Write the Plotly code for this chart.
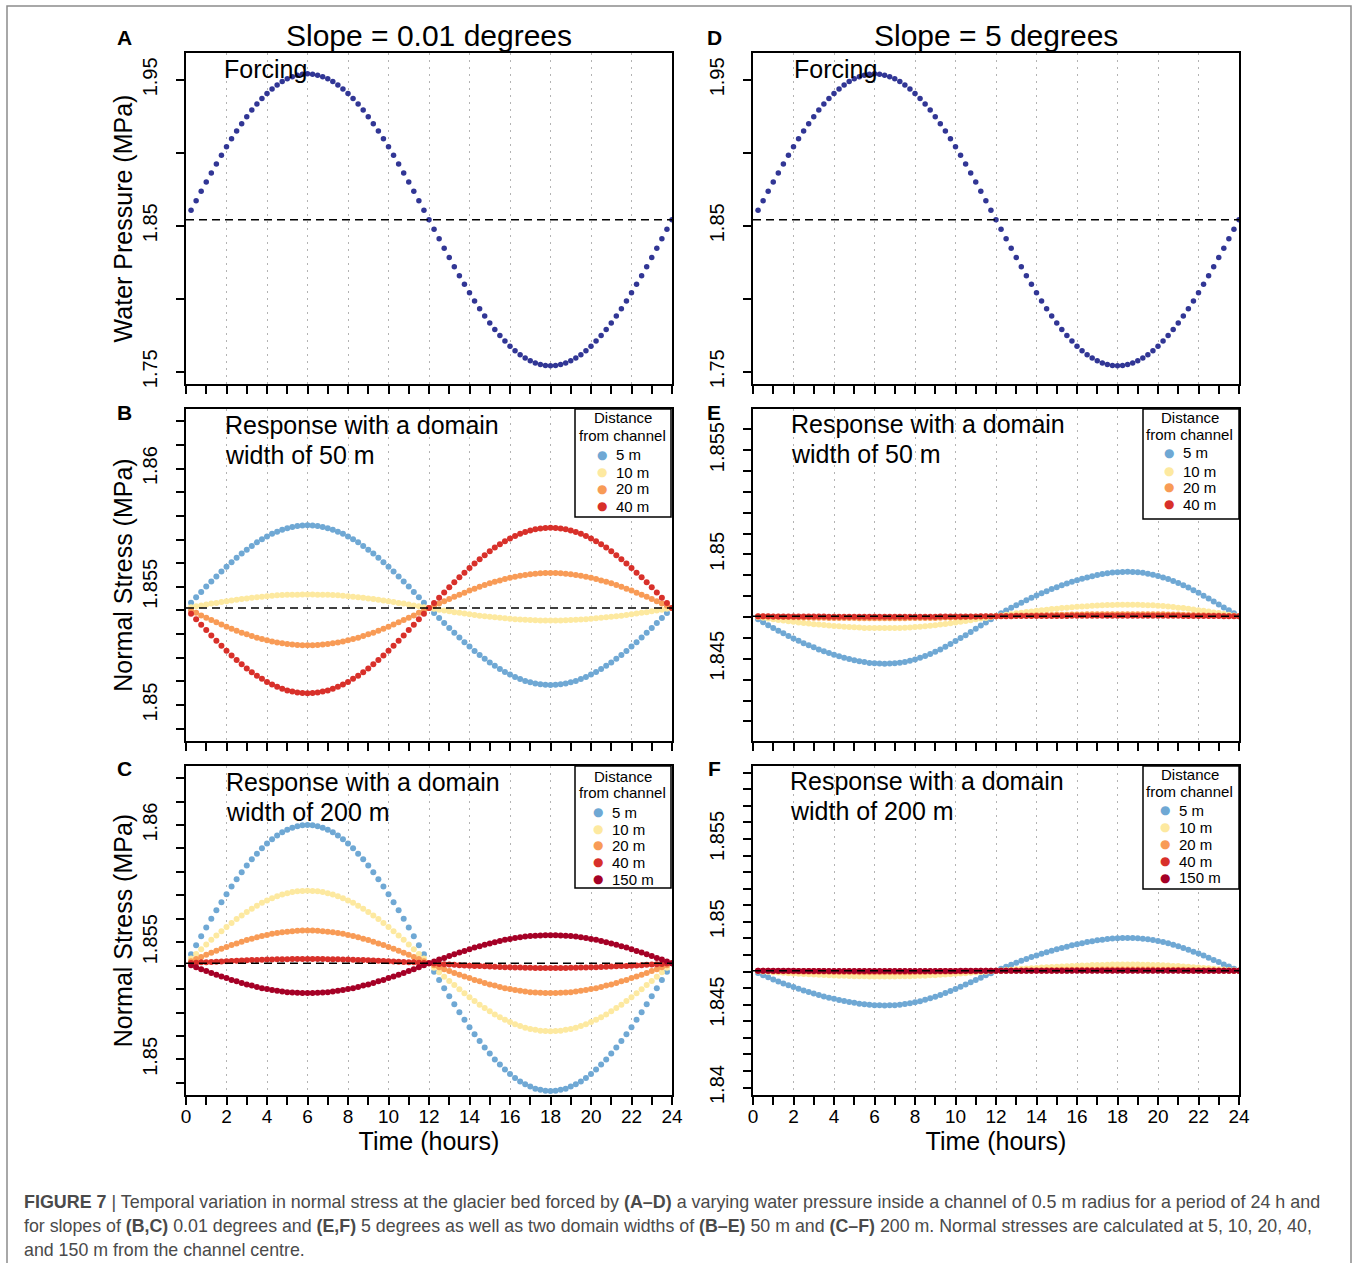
import plotly.graph_objects as go

W, H = 1358, 1263

# ---------------- data ----------------
time_h = [0.25, 0.5, 0.75, 1.0, 1.25, 1.5, 1.75, 2.0, 2.25, 2.5, 2.75, 3.0, 3.25, 3.5, 3.75, 4.0,
          4.25, 4.5, 4.75, 5.0, 5.25, 5.5, 5.75, 6.0, 6.25, 6.5, 6.75, 7.0, 7.25, 7.5, 7.75, 8.0,
          8.25, 8.5, 8.75, 9.0, 9.25, 9.5, 9.75, 10.0, 10.25, 10.5, 10.75, 11.0, 11.25, 11.5, 11.75, 12.0,
          12.25, 12.5, 12.75, 13.0, 13.25, 13.5, 13.75, 14.0, 14.25, 14.5, 14.75, 15.0, 15.25, 15.5, 15.75, 16.0,
          16.25, 16.5, 16.75, 17.0, 17.25, 17.5, 17.75, 18.0, 18.25, 18.5, 18.75, 19.0, 19.25, 19.5, 19.75, 20.0,
          20.25, 20.5, 20.75, 21.0, 21.25, 21.5, 21.75, 22.0, 22.25, 22.5, 22.75, 23.0, 23.25, 23.5, 23.75, 24.0]

# Panels A and D: forcing water pressure (MPa)
forcing_mpa = [1.8606, 1.8672, 1.8736, 1.8800, 1.8862, 1.8924, 1.8983, 1.9041, 1.9097, 1.9150, 1.9200, 1.9248,
               1.9293, 1.9334, 1.9372, 1.9407, 1.9438, 1.9465, 1.9488, 1.9507, 1.9522, 1.9532, 1.9539, 1.9541,
               1.9539, 1.9532, 1.9522, 1.9507, 1.9488, 1.9465, 1.9438, 1.9407, 1.9372, 1.9334, 1.9293, 1.9248,
               1.9200, 1.9150, 1.9097, 1.9041, 1.8983, 1.8924, 1.8862, 1.8800, 1.8736, 1.8672, 1.8606, 1.8541,
               1.8476, 1.8411, 1.8346, 1.8282, 1.8220, 1.8158, 1.8099, 1.8041, 1.7985, 1.7932, 1.7882, 1.7834,
               1.7789, 1.7748, 1.7710, 1.7675, 1.7644, 1.7617, 1.7594, 1.7575, 1.7560, 1.7550, 1.7543, 1.7541,
               1.7543, 1.7550, 1.7560, 1.7575, 1.7594, 1.7617, 1.7644, 1.7675, 1.7710, 1.7748, 1.7789, 1.7834,
               1.7882, 1.7932, 1.7985, 1.8041, 1.8099, 1.8158, 1.8220, 1.8282, 1.8346, 1.8411, 1.8476, 1.8541]

# Panel B: slope 0.01 deg, domain width 50 m (normal stress, MPa)
b_5m = [1.85433, 1.85456, 1.85478, 1.85501, 1.85523, 1.85544, 1.85565, 1.85585, 1.85604, 1.85623, 1.85641, 1.85657,
        1.85673, 1.85688, 1.85701, 1.85713, 1.85724, 1.85733, 1.85741, 1.85748, 1.85753, 1.85757, 1.85759, 1.85760,
        1.85759, 1.85757, 1.85753, 1.85748, 1.85741, 1.85733, 1.85724, 1.85713, 1.85701, 1.85688, 1.85673, 1.85657,
        1.85641, 1.85623, 1.85604, 1.85585, 1.85565, 1.85544, 1.85523, 1.85501, 1.85478, 1.85456, 1.85433, 1.85410,
        1.85389, 1.85368, 1.85347, 1.85326, 1.85306, 1.85286, 1.85266, 1.85248, 1.85229, 1.85212, 1.85196, 1.85180,
        1.85166, 1.85152, 1.85140, 1.85129, 1.85119, 1.85110, 1.85102, 1.85096, 1.85091, 1.85088, 1.85086, 1.85085,
        1.85086, 1.85088, 1.85091, 1.85096, 1.85102, 1.85110, 1.85119, 1.85129, 1.85140, 1.85152, 1.85166, 1.85180,
        1.85196, 1.85212, 1.85229, 1.85248, 1.85266, 1.85286, 1.85306, 1.85326, 1.85347, 1.85368, 1.85389, 1.85410]
b_10m = [1.85414, 1.85418, 1.85421, 1.85425, 1.85429, 1.85432, 1.85436, 1.85439, 1.85442, 1.85445, 1.85448, 1.85451,
         1.85454, 1.85456, 1.85458, 1.85460, 1.85462, 1.85464, 1.85465, 1.85466, 1.85467, 1.85467, 1.85468, 1.85468,
         1.85468, 1.85467, 1.85467, 1.85466, 1.85465, 1.85464, 1.85462, 1.85460, 1.85458, 1.85456, 1.85454, 1.85451,
         1.85448, 1.85445, 1.85442, 1.85439, 1.85436, 1.85432, 1.85429, 1.85425, 1.85421, 1.85418, 1.85414, 1.85410,
         1.85407, 1.85403, 1.85400, 1.85397, 1.85393, 1.85390, 1.85387, 1.85384, 1.85381, 1.85378, 1.85376, 1.85373,
         1.85371, 1.85369, 1.85367, 1.85365, 1.85363, 1.85362, 1.85361, 1.85360, 1.85359, 1.85358, 1.85358, 1.85358,
         1.85358, 1.85358, 1.85359, 1.85360, 1.85361, 1.85362, 1.85363, 1.85365, 1.85367, 1.85369, 1.85371, 1.85373,
         1.85376, 1.85378, 1.85381, 1.85384, 1.85387, 1.85390, 1.85393, 1.85397, 1.85400, 1.85403, 1.85407, 1.85410]
b_20m = [1.85400, 1.85390, 1.85379, 1.85369, 1.85360, 1.85350, 1.85341, 1.85331, 1.85323, 1.85314, 1.85306, 1.85299,
         1.85292, 1.85285, 1.85279, 1.85274, 1.85269, 1.85265, 1.85261, 1.85258, 1.85256, 1.85254, 1.85253, 1.85253,
         1.85253, 1.85254, 1.85256, 1.85258, 1.85261, 1.85265, 1.85269, 1.85274, 1.85279, 1.85285, 1.85292, 1.85299,
         1.85306, 1.85314, 1.85323, 1.85331, 1.85341, 1.85350, 1.85360, 1.85369, 1.85379, 1.85390, 1.85400, 1.85410,
         1.85420, 1.85429, 1.85439, 1.85448, 1.85458, 1.85467, 1.85475, 1.85484, 1.85492, 1.85500, 1.85508, 1.85515,
         1.85521, 1.85527, 1.85533, 1.85538, 1.85543, 1.85547, 1.85550, 1.85553, 1.85555, 1.85557, 1.85558, 1.85558,
         1.85558, 1.85557, 1.85555, 1.85553, 1.85550, 1.85547, 1.85543, 1.85538, 1.85533, 1.85527, 1.85521, 1.85515,
         1.85508, 1.85500, 1.85492, 1.85484, 1.85475, 1.85467, 1.85458, 1.85448, 1.85439, 1.85429, 1.85420, 1.85410]
b_40m = [1.85386, 1.85363, 1.85340, 1.85317, 1.85294, 1.85272, 1.85251, 1.85230, 1.85210, 1.85191, 1.85173, 1.85155,
         1.85139, 1.85124, 1.85111, 1.85098, 1.85087, 1.85077, 1.85069, 1.85062, 1.85057, 1.85053, 1.85051, 1.85050,
         1.85051, 1.85053, 1.85057, 1.85062, 1.85069, 1.85077, 1.85087, 1.85098, 1.85111, 1.85124, 1.85139, 1.85155,
         1.85173, 1.85191, 1.85210, 1.85230, 1.85251, 1.85272, 1.85294, 1.85317, 1.85340, 1.85363, 1.85386, 1.85410,
         1.85432, 1.85454, 1.85476, 1.85498, 1.85519, 1.85540, 1.85560, 1.85580, 1.85599, 1.85617, 1.85634, 1.85650,
         1.85666, 1.85680, 1.85693, 1.85704, 1.85715, 1.85724, 1.85732, 1.85738, 1.85743, 1.85747, 1.85749, 1.85750,
         1.85749, 1.85747, 1.85743, 1.85738, 1.85732, 1.85724, 1.85715, 1.85704, 1.85693, 1.85680, 1.85666, 1.85650,
         1.85634, 1.85617, 1.85599, 1.85580, 1.85560, 1.85540, 1.85519, 1.85498, 1.85476, 1.85454, 1.85432, 1.85410]

# Panel C: slope 0.01 deg, domain width 200 m
c_5m = [1.85449, 1.85487, 1.85525, 1.85563, 1.85600, 1.85636, 1.85671, 1.85705, 1.85738, 1.85769, 1.85799, 1.85827,
        1.85854, 1.85878, 1.85901, 1.85921, 1.85939, 1.85955, 1.85969, 1.85980, 1.85989, 1.85995, 1.85999, 1.86000,
        1.85999, 1.85995, 1.85989, 1.85980, 1.85969, 1.85955, 1.85939, 1.85921, 1.85901, 1.85878, 1.85854, 1.85827,
        1.85799, 1.85769, 1.85738, 1.85705, 1.85671, 1.85636, 1.85600, 1.85563, 1.85525, 1.85487, 1.85449, 1.85410,
        1.85374, 1.85339, 1.85304, 1.85269, 1.85235, 1.85201, 1.85169, 1.85137, 1.85107, 1.85078, 1.85051, 1.85025,
        1.85000, 1.84978, 1.84957, 1.84938, 1.84921, 1.84906, 1.84894, 1.84884, 1.84875, 1.84870, 1.84866, 1.84865,
        1.84866, 1.84870, 1.84875, 1.84884, 1.84894, 1.84906, 1.84921, 1.84938, 1.84957, 1.84978, 1.85000, 1.85025,
        1.85051, 1.85078, 1.85107, 1.85137, 1.85169, 1.85201, 1.85235, 1.85269, 1.85304, 1.85339, 1.85374, 1.85410]
c_10m = [1.85430, 1.85450, 1.85470, 1.85490, 1.85510, 1.85529, 1.85547, 1.85565, 1.85582, 1.85599, 1.85614, 1.85629,
         1.85643, 1.85656, 1.85668, 1.85678, 1.85688, 1.85696, 1.85704, 1.85709, 1.85714, 1.85717, 1.85719, 1.85720,
         1.85719, 1.85717, 1.85714, 1.85709, 1.85704, 1.85696, 1.85688, 1.85678, 1.85668, 1.85656, 1.85643, 1.85629,
         1.85614, 1.85599, 1.85582, 1.85565, 1.85547, 1.85529, 1.85510, 1.85490, 1.85470, 1.85450, 1.85430, 1.85410,
         1.85391, 1.85372, 1.85353, 1.85335, 1.85317, 1.85299, 1.85282, 1.85265, 1.85249, 1.85233, 1.85219, 1.85205,
         1.85192, 1.85180, 1.85169, 1.85159, 1.85150, 1.85142, 1.85135, 1.85130, 1.85126, 1.85122, 1.85121, 1.85120,
         1.85121, 1.85122, 1.85126, 1.85130, 1.85135, 1.85142, 1.85150, 1.85159, 1.85169, 1.85180, 1.85192, 1.85205,
         1.85219, 1.85233, 1.85249, 1.85265, 1.85282, 1.85299, 1.85317, 1.85335, 1.85353, 1.85372, 1.85391, 1.85410]
c_20m = [1.85419, 1.85428, 1.85437, 1.85446, 1.85455, 1.85464, 1.85472, 1.85480, 1.85488, 1.85495, 1.85502, 1.85509,
         1.85515, 1.85521, 1.85526, 1.85531, 1.85536, 1.85539, 1.85543, 1.85545, 1.85547, 1.85549, 1.85550, 1.85550,
         1.85550, 1.85549, 1.85547, 1.85545, 1.85543, 1.85539, 1.85536, 1.85531, 1.85526, 1.85521, 1.85515, 1.85509,
         1.85502, 1.85495, 1.85488, 1.85480, 1.85472, 1.85464, 1.85455, 1.85446, 1.85437, 1.85428, 1.85419, 1.85410,
         1.85402, 1.85393, 1.85385, 1.85377, 1.85369, 1.85361, 1.85354, 1.85347, 1.85339, 1.85333, 1.85326, 1.85320,
         1.85315, 1.85309, 1.85304, 1.85300, 1.85296, 1.85293, 1.85290, 1.85287, 1.85285, 1.85284, 1.85283, 1.85283,
         1.85283, 1.85284, 1.85285, 1.85287, 1.85290, 1.85293, 1.85296, 1.85300, 1.85304, 1.85309, 1.85315, 1.85320,
         1.85326, 1.85333, 1.85339, 1.85347, 1.85354, 1.85361, 1.85369, 1.85377, 1.85385, 1.85393, 1.85402, 1.85410]
c_40m = [1.85411, 1.85412, 1.85414, 1.85415, 1.85416, 1.85417, 1.85418, 1.85419, 1.85420, 1.85421, 1.85422, 1.85423,
         1.85424, 1.85424, 1.85425, 1.85426, 1.85426, 1.85427, 1.85427, 1.85427, 1.85428, 1.85428, 1.85428, 1.85428,
         1.85428, 1.85428, 1.85428, 1.85427, 1.85427, 1.85427, 1.85426, 1.85426, 1.85425, 1.85424, 1.85424, 1.85423,
         1.85422, 1.85421, 1.85420, 1.85419, 1.85418, 1.85417, 1.85416, 1.85415, 1.85414, 1.85412, 1.85411, 1.85410,
         1.85409, 1.85407, 1.85406, 1.85405, 1.85404, 1.85402, 1.85401, 1.85400, 1.85399, 1.85398, 1.85397, 1.85396,
         1.85395, 1.85394, 1.85393, 1.85393, 1.85392, 1.85392, 1.85391, 1.85391, 1.85390, 1.85390, 1.85390, 1.85390,
         1.85390, 1.85390, 1.85390, 1.85391, 1.85391, 1.85392, 1.85392, 1.85393, 1.85393, 1.85394, 1.85395, 1.85396,
         1.85397, 1.85398, 1.85399, 1.85400, 1.85401, 1.85402, 1.85404, 1.85405, 1.85406, 1.85407, 1.85409, 1.85410]
c_150m = [1.85402, 1.85393, 1.85385, 1.85377, 1.85369, 1.85361, 1.85354, 1.85347, 1.85339, 1.85333, 1.85326, 1.85320,
          1.85315, 1.85309, 1.85304, 1.85300, 1.85296, 1.85293, 1.85290, 1.85287, 1.85285, 1.85284, 1.85283, 1.85283,
          1.85283, 1.85284, 1.85285, 1.85287, 1.85290, 1.85293, 1.85296, 1.85300, 1.85304, 1.85309, 1.85315, 1.85320,
          1.85326, 1.85333, 1.85339, 1.85347, 1.85354, 1.85361, 1.85369, 1.85377, 1.85385, 1.85393, 1.85402, 1.85410,
          1.85418, 1.85426, 1.85433, 1.85441, 1.85449, 1.85456, 1.85463, 1.85470, 1.85477, 1.85483, 1.85489, 1.85495,
          1.85500, 1.85505, 1.85510, 1.85514, 1.85518, 1.85521, 1.85524, 1.85526, 1.85528, 1.85529, 1.85530, 1.85530,
          1.85530, 1.85529, 1.85528, 1.85526, 1.85524, 1.85521, 1.85518, 1.85514, 1.85510, 1.85505, 1.85500, 1.85495,
          1.85489, 1.85483, 1.85477, 1.85470, 1.85463, 1.85456, 1.85449, 1.85441, 1.85433, 1.85426, 1.85418, 1.85410]

# Panel E: slope 5 deg, domain width 50 m
e_5m = [1.84689, 1.84675, 1.84661, 1.84647, 1.84634, 1.84622, 1.84609, 1.84597, 1.84586, 1.84575, 1.84565, 1.84555,
        1.84545, 1.84536, 1.84528, 1.84519, 1.84512, 1.84505, 1.84499, 1.84493, 1.84488, 1.84484, 1.84480, 1.84478,
        1.84477, 1.84476, 1.84477, 1.84478, 1.84481, 1.84485, 1.84491, 1.84497, 1.84505, 1.84513, 1.84523, 1.84534,
        1.84545, 1.84558, 1.84571, 1.84585, 1.84599, 1.84613, 1.84628, 1.84644, 1.84659, 1.84674, 1.84689, 1.84704,
        1.84718, 1.84731, 1.84744, 1.84757, 1.84769, 1.84781, 1.84792, 1.84803, 1.84814, 1.84824, 1.84834, 1.84843,
        1.84852, 1.84861, 1.84869, 1.84876, 1.84883, 1.84890, 1.84896, 1.84901, 1.84906, 1.84910, 1.84913, 1.84915,
        1.84916, 1.84917, 1.84916, 1.84915, 1.84912, 1.84908, 1.84903, 1.84897, 1.84890, 1.84882, 1.84873, 1.84863,
        1.84852, 1.84841, 1.84828, 1.84816, 1.84802, 1.84789, 1.84775, 1.84760, 1.84746, 1.84732, 1.84718, 1.84704]
e_10m = [1.84700, 1.84697, 1.84693, 1.84690, 1.84686, 1.84683, 1.84680, 1.84677, 1.84674, 1.84672, 1.84669, 1.84666,
         1.84664, 1.84662, 1.84659, 1.84657, 1.84656, 1.84654, 1.84652, 1.84651, 1.84650, 1.84648, 1.84648, 1.84647,
         1.84647, 1.84647, 1.84647, 1.84647, 1.84648, 1.84649, 1.84650, 1.84652, 1.84654, 1.84656, 1.84658, 1.84661,
         1.84664, 1.84667, 1.84670, 1.84674, 1.84677, 1.84681, 1.84685, 1.84689, 1.84693, 1.84696, 1.84700, 1.84704,
         1.84708, 1.84711, 1.84714, 1.84718, 1.84721, 1.84724, 1.84727, 1.84730, 1.84733, 1.84735, 1.84738, 1.84740,
         1.84743, 1.84745, 1.84747, 1.84749, 1.84751, 1.84752, 1.84754, 1.84755, 1.84757, 1.84758, 1.84758, 1.84759,
         1.84759, 1.84759, 1.84759, 1.84759, 1.84758, 1.84757, 1.84756, 1.84754, 1.84753, 1.84750, 1.84748, 1.84745,
         1.84743, 1.84740, 1.84736, 1.84733, 1.84730, 1.84726, 1.84722, 1.84719, 1.84715, 1.84711, 1.84708, 1.84704]
e_20m = [1.84703, 1.84703, 1.84702, 1.84701, 1.84701, 1.84700, 1.84700, 1.84699, 1.84699, 1.84698, 1.84698, 1.84697,
         1.84697, 1.84697, 1.84696, 1.84696, 1.84696, 1.84695, 1.84695, 1.84695, 1.84694, 1.84694, 1.84694, 1.84694,
         1.84694, 1.84694, 1.84694, 1.84694, 1.84694, 1.84694, 1.84695, 1.84695, 1.84695, 1.84696, 1.84696, 1.84696,
         1.84697, 1.84698, 1.84698, 1.84699, 1.84699, 1.84700, 1.84701, 1.84701, 1.84702, 1.84703, 1.84703, 1.84704,
         1.84705, 1.84705, 1.84706, 1.84707, 1.84707, 1.84708, 1.84708, 1.84709, 1.84709, 1.84710, 1.84710, 1.84711,
         1.84711, 1.84711, 1.84712, 1.84712, 1.84712, 1.84713, 1.84713, 1.84713, 1.84714, 1.84714, 1.84714, 1.84714,
         1.84714, 1.84714, 1.84714, 1.84714, 1.84714, 1.84714, 1.84713, 1.84713, 1.84713, 1.84712, 1.84712, 1.84712,
         1.84711, 1.84710, 1.84710, 1.84709, 1.84709, 1.84708, 1.84707, 1.84707, 1.84706, 1.84705, 1.84705, 1.84704]
e_40m = [1.84704, 1.84704, 1.84704, 1.84703, 1.84703, 1.84703, 1.84703, 1.84703, 1.84703, 1.84703, 1.84703, 1.84703,
         1.84703, 1.84703, 1.84702, 1.84702, 1.84702, 1.84702, 1.84702, 1.84702, 1.84702, 1.84702, 1.84702, 1.84702,
         1.84702, 1.84702, 1.84702, 1.84702, 1.84702, 1.84702, 1.84702, 1.84702, 1.84702, 1.84702, 1.84702, 1.84702,
         1.84703, 1.84703, 1.84703, 1.84703, 1.84703, 1.84703, 1.84703, 1.84703, 1.84704, 1.84704, 1.84704, 1.84704,
         1.84704, 1.84704, 1.84704, 1.84705, 1.84705, 1.84705, 1.84705, 1.84705, 1.84705, 1.84705, 1.84705, 1.84705,
         1.84705, 1.84705, 1.84706, 1.84706, 1.84706, 1.84706, 1.84706, 1.84706, 1.84706, 1.84706, 1.84706, 1.84706,
         1.84706, 1.84706, 1.84706, 1.84706, 1.84706, 1.84706, 1.84706, 1.84706, 1.84706, 1.84706, 1.84706, 1.84706,
         1.84705, 1.84705, 1.84705, 1.84705, 1.84705, 1.84705, 1.84705, 1.84705, 1.84704, 1.84704, 1.84704, 1.84704]

# Panel F: slope 5 deg, domain width 200 m
f_5m = [1.84691, 1.84677, 1.84665, 1.84652, 1.84640, 1.84628, 1.84617, 1.84606, 1.84596, 1.84586, 1.84576, 1.84567,
        1.84559, 1.84550, 1.84542, 1.84535, 1.84528, 1.84522, 1.84516, 1.84511, 1.84506, 1.84502, 1.84499, 1.84497,
        1.84496, 1.84495, 1.84496, 1.84497, 1.84500, 1.84504, 1.84509, 1.84514, 1.84521, 1.84529, 1.84538, 1.84548,
        1.84559, 1.84570, 1.84582, 1.84595, 1.84608, 1.84621, 1.84635, 1.84649, 1.84663, 1.84677, 1.84690, 1.84704,
        1.84717, 1.84729, 1.84741, 1.84753, 1.84765, 1.84776, 1.84787, 1.84797, 1.84807, 1.84816, 1.84825, 1.84834,
        1.84842, 1.84850, 1.84858, 1.84865, 1.84871, 1.84878, 1.84883, 1.84888, 1.84892, 1.84896, 1.84899, 1.84901,
        1.84902, 1.84903, 1.84902, 1.84901, 1.84898, 1.84894, 1.84890, 1.84884, 1.84878, 1.84870, 1.84862, 1.84852,
        1.84842, 1.84832, 1.84820, 1.84808, 1.84796, 1.84783, 1.84770, 1.84757, 1.84743, 1.84730, 1.84717, 1.84704]
f_10m = [1.84702, 1.84700, 1.84698, 1.84695, 1.84694, 1.84692, 1.84690, 1.84688, 1.84686, 1.84685, 1.84683, 1.84682,
         1.84680, 1.84679, 1.84677, 1.84676, 1.84675, 1.84674, 1.84673, 1.84672, 1.84671, 1.84671, 1.84670, 1.84670,
         1.84670, 1.84670, 1.84670, 1.84670, 1.84671, 1.84671, 1.84672, 1.84673, 1.84674, 1.84675, 1.84677, 1.84678,
         1.84680, 1.84682, 1.84684, 1.84686, 1.84688, 1.84690, 1.84693, 1.84695, 1.84697, 1.84699, 1.84702, 1.84704,
         1.84706, 1.84709, 1.84711, 1.84714, 1.84716, 1.84718, 1.84720, 1.84722, 1.84724, 1.84726, 1.84727, 1.84729,
         1.84731, 1.84732, 1.84734, 1.84735, 1.84736, 1.84737, 1.84739, 1.84739, 1.84740, 1.84741, 1.84742, 1.84742,
         1.84742, 1.84742, 1.84742, 1.84742, 1.84741, 1.84741, 1.84740, 1.84739, 1.84738, 1.84736, 1.84734, 1.84733,
         1.84731, 1.84729, 1.84726, 1.84724, 1.84722, 1.84719, 1.84717, 1.84714, 1.84712, 1.84709, 1.84707, 1.84704]
f_20m = [1.84703, 1.84703, 1.84702, 1.84702, 1.84702, 1.84701, 1.84701, 1.84700, 1.84700, 1.84699, 1.84699, 1.84699,
         1.84698, 1.84698, 1.84698, 1.84697, 1.84697, 1.84697, 1.84697, 1.84697, 1.84696, 1.84696, 1.84696, 1.84696,
         1.84696, 1.84696, 1.84696, 1.84696, 1.84696, 1.84696, 1.84696, 1.84697, 1.84697, 1.84697, 1.84698, 1.84698,
         1.84698, 1.84699, 1.84699, 1.84700, 1.84700, 1.84701, 1.84701, 1.84702, 1.84702, 1.84703, 1.84703, 1.84704,
         1.84705, 1.84705, 1.84706, 1.84706, 1.84706, 1.84707, 1.84707, 1.84708, 1.84708, 1.84709, 1.84709, 1.84709,
         1.84710, 1.84710, 1.84710, 1.84711, 1.84711, 1.84711, 1.84711, 1.84711, 1.84712, 1.84712, 1.84712, 1.84712,
         1.84712, 1.84712, 1.84712, 1.84712, 1.84712, 1.84712, 1.84712, 1.84711, 1.84711, 1.84711, 1.84710, 1.84710,
         1.84710, 1.84709, 1.84709, 1.84708, 1.84708, 1.84707, 1.84707, 1.84706, 1.84706, 1.84705, 1.84705, 1.84704]
f_40m = [1.84704, 1.84704, 1.84704, 1.84703, 1.84703, 1.84703, 1.84703, 1.84703, 1.84703, 1.84703, 1.84703, 1.84703,
         1.84703, 1.84703, 1.84702, 1.84702, 1.84702, 1.84702, 1.84702, 1.84702, 1.84702, 1.84702, 1.84702, 1.84702,
         1.84702, 1.84702, 1.84702, 1.84702, 1.84702, 1.84702, 1.84702, 1.84702, 1.84702, 1.84702, 1.84702, 1.84702,
         1.84703, 1.84703, 1.84703, 1.84703, 1.84703, 1.84703, 1.84703, 1.84703, 1.84704, 1.84704, 1.84704, 1.84704,
         1.84704, 1.84704, 1.84704, 1.84705, 1.84705, 1.84705, 1.84705, 1.84705, 1.84705, 1.84705, 1.84705, 1.84705,
         1.84705, 1.84705, 1.84706, 1.84706, 1.84706, 1.84706, 1.84706, 1.84706, 1.84706, 1.84706, 1.84706, 1.84706,
         1.84706, 1.84706, 1.84706, 1.84706, 1.84706, 1.84706, 1.84706, 1.84706, 1.84706, 1.84706, 1.84706, 1.84706,
         1.84705, 1.84705, 1.84705, 1.84705, 1.84705, 1.84705, 1.84705, 1.84705, 1.84704, 1.84704, 1.84704, 1.84704]
f_150m = [1.84704, 1.84704, 1.84704, 1.84704, 1.84704, 1.84704, 1.84704, 1.84704, 1.84703, 1.84703, 1.84703, 1.84703,
          1.84703, 1.84703, 1.84703, 1.84703, 1.84703, 1.84703, 1.84703, 1.84703, 1.84703, 1.84703, 1.84703, 1.84703,
          1.84703, 1.84703, 1.84703, 1.84703, 1.84703, 1.84703, 1.84703, 1.84703, 1.84703, 1.84703, 1.84703, 1.84703,
          1.84703, 1.84703, 1.84703, 1.84703, 1.84704, 1.84704, 1.84704, 1.84704, 1.84704, 1.84704, 1.84704, 1.84704,
          1.84704, 1.84704, 1.84704, 1.84704, 1.84704, 1.84704, 1.84704, 1.84704, 1.84705, 1.84705, 1.84705, 1.84705,
          1.84705, 1.84705, 1.84705, 1.84705, 1.84705, 1.84705, 1.84705, 1.84705, 1.84705, 1.84705, 1.84705, 1.84705,
          1.84705, 1.84705, 1.84705, 1.84705, 1.84705, 1.84705, 1.84705, 1.84705, 1.84705, 1.84705, 1.84705, 1.84705,
          1.84705, 1.84705, 1.84705, 1.84705, 1.84704, 1.84704, 1.84704, 1.84704, 1.84704, 1.84704, 1.84704, 1.84704]

# dashed reference level of each panel (A, B, C, D, E, F)
baseline_mpa = [1.8541, 1.8541, 1.8541, 1.8541, 1.84704, 1.84704]

dist_labels = ["5 m", "10 m", "20 m", "40 m", "150 m"]
dist_colors = ["#6FA8D4", "#FDE9A0", "#F89B56", "#D8302A", "#A50026"]
forcing_color = "#313695"
legend_title_lines = ["Distance", "from channel"]

x_tick_vals = [0, 2, 4, 6, 8, 10, 12, 14, 16, 18, 20, 22, 24]
x_tick_text = ["0", "2", "4", "6", "8", "10", "12", "14", "16", "18", "20", "22", "24"]
x_minor_vals = [1, 3, 5, 7, 9, 11, 13, 15, 17, 19, 21, 23]

y_ad_vals = [1.75, 1.85, 1.95]
y_ad_text = ["1.75", "1.85", "1.95"]
y_ad_minor = [1.80, 1.90]
y_bc_vals = [1.85, 1.855, 1.86]
y_bc_text = ["1.85", "1.855", "1.86"]
y_bc_minor = [1.849, 1.851, 1.852, 1.853, 1.854, 1.856, 1.857, 1.858, 1.859, 1.861, 1.862]
y_e_vals = [1.845, 1.85, 1.855]
y_e_text = ["1.845", "1.85", "1.855"]
y_e_minor = [1.842, 1.843, 1.844, 1.846, 1.847, 1.848, 1.849, 1.851, 1.852, 1.853, 1.854, 1.856]
y_f_vals = [1.84, 1.845, 1.85, 1.855]
y_f_text = ["1.84", "1.845", "1.85", "1.855"]
y_f_minor = [1.841, 1.842, 1.843, 1.844, 1.846, 1.847, 1.848, 1.849, 1.851, 1.852, 1.853, 1.854,
             1.856, 1.857, 1.858, 1.859]

for _s in [forcing_mpa, b_5m, b_10m, b_20m, b_40m, c_5m, c_10m, c_20m, c_40m, c_150m,
           e_5m, e_10m, e_20m, e_40m, f_5m, f_10m, f_20m, f_40m, f_150m]:
    assert len(_s) == len(time_h), len(_s)

# ---------------- layout helpers ----------------
FONT = "Liberation Sans, Arial, Helvetica, sans-serif"


def px_x(p):
    return p / W


def px_y(p):
    return 1 - p / H


col_px = [(186, 672), (753, 1239)]
row_px = [(53, 384), (409, 741), (766, 1095)]

# panel -> (axis index, col, row)
panels = {"A": (1, 0, 0), "B": (2, 0, 1), "C": (3, 0, 2), "D": (4, 1, 0), "E": (5, 1, 1), "F": (6, 1, 2)}

fig = go.Figure()


def axnames(i):
    return ("x" if i == 1 else f"x{i}", "y" if i == 1 else f"y{i}")


# forcing panels
for p in ["A", "D"]:
    i = panels[p][0]
    xa, ya = axnames(i)
    fig.add_trace(go.Scatter(x=time_h, y=forcing_mpa, mode="markers", xaxis=xa, yaxis=ya,
                             marker=dict(color=forcing_color, size=5.5, line=dict(width=0)),
                             showlegend=False, name="Forcing"))

response = {
    "B": [b_5m, b_10m, b_20m, b_40m],
    "C": [c_5m, c_10m, c_20m, c_40m, c_150m],
    "E": [e_5m, e_10m, e_20m, e_40m],
    "F": [f_5m, f_10m, f_20m, f_40m, f_150m],
}
for p, series in response.items():
    i = panels[p][0]
    xa, ya = axnames(i)
    for k, s in enumerate(series):
        fig.add_trace(go.Scatter(x=time_h, y=s, mode="markers", xaxis=xa, yaxis=ya,
                                 marker=dict(color=dist_colors[k], size=6, line=dict(width=0)),
                                 name=f"{p}: {dist_labels[k]}", showlegend=False))

y_specs = {
    "A": ([1.7416, 1.9684], y_ad_vals, y_ad_text, y_ad_minor, "Water Pressure (MPa)"),
    "D": ([1.7416, 1.9684], y_ad_vals, y_ad_text, y_ad_minor, None),
    "B": ([1.84848, 1.86252], y_bc_vals, y_bc_text, y_bc_minor, "Normal Stress (MPa)"),
    "C": ([1.84848, 1.86252], y_bc_vals, y_bc_text, y_bc_minor, "Normal Stress (MPa)"),
    "E": ([1.84106, 1.85697], y_e_vals, y_e_text, y_e_minor, None),
    "F": ([1.83955, 1.8594], y_f_vals, y_f_text, y_f_minor, None),
}

tick_common = dict(ticks="outside", ticklen=8, tickwidth=1.5, tickcolor="black",
                   showline=True, mirror=True, linecolor="black", linewidth=1.5,
                   zeroline=False, automargin=False, fixedrange=True)

layout_axes = {}
for p, (i, c, r) in panels.items():
    xa, ya = axnames(i)
    xk = "xaxis" if i == 1 else f"xaxis{i}"
    yk = "yaxis" if i == 1 else f"yaxis{i}"
    xd = [px_x(col_px[c][0]), px_x(col_px[c][1])]
    yd = [px_y(row_px[r][1]), px_y(row_px[r][0])]
    bottom = (r == 2)
    xcfg = dict(domain=xd, anchor=ya, range=[0, 24], tickmode="array",
                tickvals=x_tick_vals, ticktext=x_tick_text, showticklabels=bottom,
                showgrid=True, gridcolor="#b3b3b3", griddash="2px,5px", gridwidth=1,
                tickfont=dict(family=FONT, size=19, color="black"),
                minor=dict(tickmode="array", tickvals=x_minor_vals, ticks="outside", ticklen=8,
                           tickwidth=1.5, tickcolor="black", showgrid=False),
                **tick_common)
    if bottom:
        xcfg["ticklabelstandoff"] = -5
        xcfg["title"] = dict(text="Time (hours)", font=dict(family=FONT, size=25, color="black"),
                             standoff=0)
    rng, tv, tt, mv, ttl = y_specs[p]
    ycfg = dict(domain=yd, anchor=xa, range=rng, tickmode="array", tickvals=tv, ticktext=tt,
                tickangle=-90, showgrid=False, ticklabelstandoff=11,
                tickfont=dict(family=FONT, size=20, color="black"),
                minor=dict(tickmode="array", tickvals=mv, ticks="outside", ticklen=8,
                           tickwidth=1.5, tickcolor="black", showgrid=False),
                **tick_common)
    if ttl:
        ycfg["title"] = dict(text=ttl, font=dict(family=FONT, size=25, color="black"), standoff=0)
    layout_axes[xk] = xcfg
    layout_axes[yk] = ycfg

# dashed reference lines (drawn above the points)
shapes = []
for p, (i, c, r) in panels.items():
    xa, ya = axnames(i)
    shapes.append(dict(type="line", xref=f"{xa} domain", x0=0, x1=1, yref=ya,
                       y0=baseline_mpa[i - 1], y1=baseline_mpa[i - 1],
                       line=dict(color="black", width=1.5, dash="8px,5px"), layer="above"))
# outer frame
shapes.append(dict(type="rect", xref="paper", yref="paper", x0=px_x(7), x1=px_x(1351),
                   y0=-0.05, y1=px_y(6), line=dict(color="#8c8c8c", width=1.5), layer="below"))

annotations = []


def text(px, py, s, size, xanchor="left", color="black", family=FONT):
    annotations.append(dict(x=px_x(px), y=px_y(py), xref="paper", yref="paper", text=s,
                            showarrow=False, xanchor=xanchor, yanchor="middle",
                            font=dict(family=family, size=size, color=color)))


text(429, 36, "Slope = 0.01 degrees", 30, "center")
text(996, 36, "Slope = 5 degrees", 30, "center")
for lab, (lx, ly) in {"A": (124.5, 37), "B": (124.5, 412), "C": (124.5, 768),
                      "D": (714, 37), "E": (714, 412), "F": (714, 768)}.items():
    text(lx, ly, f"<b>{lab}</b>", 21, "center")

text(222, 69, "Forcing", 25)
text(792, 69, "Forcing", 25)
text(223, 425, "Response with a domain", 25)
text(223, 455, "width of 50 m", 25)
text(224, 782, "Response with a domain", 25)
text(224, 812, "width of 200 m", 25)
text(789, 424, "Response with a domain", 25)
text(789, 454, "width of 50 m", 25)
text(788, 781, "Response with a domain", 25)
text(788, 811, "width of 200 m", 25)

# legend boxes: (left, right, top, bottom, title y's, title centre x, key x, label x, row y's)
legend_boxes = {
    "B": (575, 671, 409, 517, (418, 435), 622.5, 602, 614, (455, 472, 489, 506)),
    "C": (575, 671, 766, 888, (776, 792), 622.5, 598, 610, (812, 829, 845, 862, 879)),
    "E": (1143, 1239, 409, 519, (417, 434), 1189.5, 1169, 1181, (453, 471, 487, 504)),
    "F": (1143, 1239, 766, 889, (774, 791), 1189.5, 1165, 1177, (810, 827, 844, 861, 878)),
}
for p, (l, rgt, t, btm, tys, tcx, kx, lx, rys) in legend_boxes.items():
    shapes.append(dict(type="rect", xref="paper", yref="paper", x0=px_x(l), x1=px_x(rgt),
                       y0=px_y(btm), y1=px_y(t), line=dict(color="black", width=1.5),
                       fillcolor="white", layer="above"))
    for ty, tl in zip(tys, legend_title_lines):
        text(tcx, ty, tl, 15, "center")
    for k, ry in enumerate(rys):
        text(kx, ry, "●", 12, "center", color=dist_colors[k], family="DejaVu Sans, sans-serif")
        text(lx, ry, dist_labels[k], 15, "left")

cap_color = "#4a4a4a"
text(22, 1202, "<b>FIGURE 7</b> | Temporal variation in normal stress at the glacier bed forced by <b>(A–D)</b> "
               "a varying water pressure inside a channel of 0.5 m radius for a period of 24 h and",
     17.9, color=cap_color)
text(22, 1226, "for slopes of <b>(B,C)</b> 0.01 degrees and <b>(E,F)</b> 5 degrees as well as two domain widths of "
               "<b>(B–E)</b> 50 m and <b>(C–F)</b> 200 m. Normal stresses are calculated at 5, 10, 20, 40,",
     17.8, color=cap_color)
text(22, 1250, "and 150 m from the channel centre.", 17.8, color=cap_color)

fig.update_layout(
    width=W, height=H, margin=dict(l=0, r=0, t=0, b=0),
    paper_bgcolor="white", plot_bgcolor="white",
    font=dict(family=FONT, color="black"),
    showlegend=False,
    shapes=shapes, annotations=annotations,
    **layout_axes,
)

fig.write_html("out.html", config={"displayModeBar": False},
               post_script="document.body.style.margin='0px';")
